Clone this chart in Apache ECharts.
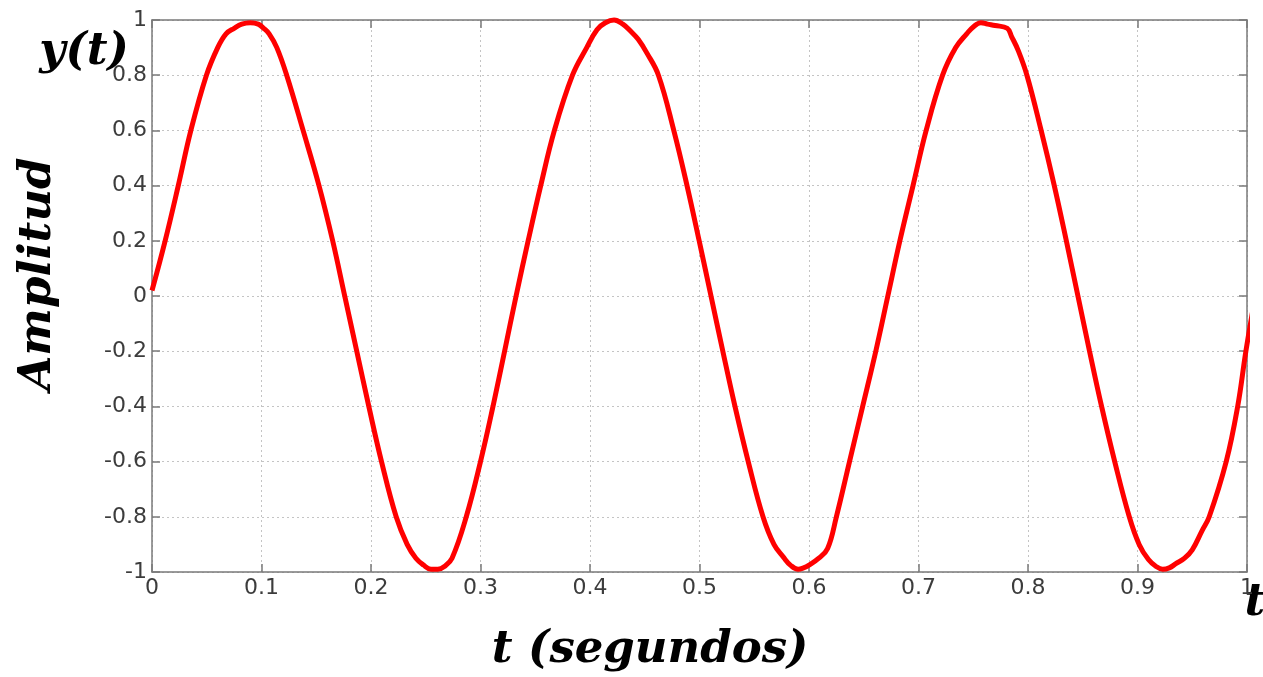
<!DOCTYPE html>
<html>
<head>
<meta charset="utf-8">
<script src="https://cdn.jsdelivr.net/npm/echarts@6/dist/echarts.min.js"></script>
<style>
html,body{margin:0;padding:0;background:#fff;}
#chart{width:1263px;height:677px;}
</style>
</head>
<body>
<div id="chart"></div>
<script>
// time values (s)
var tValues = [0,0.012,0.024,0.0355,0.0497,0.060,0.0676,0.075,0.082,0.0898,0.097,0.102,0.107,0.114,0.123,0.138,0.1525,0.165,0.176,0.187,0.198,0.2096,0.223,0.233,0.241,0.248,0.2548,0.261,0.267,0.274,0.287,0.300,0.3114,0.322,0.3325,0.3435,0.355,0.3675,0.384,0.397,0.4064,0.414,0.422,0.430,0.437,0.444,0.452,0.4625,0.4765,0.4886,0.4997,0.5105,0.5213,0.5324,0.5445,0.558,0.568,0.577,0.583,0.590,0.595,0.600,0.609,0.617,0.625,0.637,0.649,0.661,0.672,0.683,0.695,0.707,0.722,0.734,0.744,0.750,0.757,0.763,0.770,0.781,0.785,0.791,0.799,0.812,0.824,0.835,0.8456,0.8562,0.8672,0.8792,0.8925,0.9015,0.910,0.917,0.923,0.929,0.935,0.943,0.950,0.959,0.9655,0.981,0.9915,0.999,1.0076];
// amplitude values
var ampValues = [0.02,0.2,0.4,0.6,0.8,0.9,0.95,0.97,0.985,0.99,0.985,0.97,0.95,0.9,0.8,0.6,0.4,0.2,0,-0.2,-0.4,-0.6,-0.8,-0.9,-0.95,-0.975,-0.99,-0.99,-0.98,-0.95,-0.8,-0.6,-0.4,-0.2,0,0.2,0.4,0.6,0.8,0.9,0.965,0.99,1.0,0.985,0.96,0.93,0.88,0.8,0.6,0.4,0.2,0,-0.2,-0.4,-0.6,-0.8,-0.9,-0.948,-0.975,-0.99,-0.985,-0.975,-0.95,-0.915,-0.8,-0.6,-0.4,-0.2,0,0.2,0.4,0.6,0.8,0.9,0.95,0.975,0.99,0.985,0.98,0.97,0.94,0.89,0.8,0.6,0.4,0.2,0,-0.2,-0.4,-0.6,-0.8,-0.9,-0.955,-0.98,-0.99,-0.985,-0.97,-0.95,-0.92,-0.85,-0.8,-0.6,-0.4,-0.2,0];
// axis ranges / ticks
var xRange = [0, 1, 0.1];
var yRange = [-1, 1, 0.2];
// titles
var xTitle = 't (segundos)';
var yTitle = 'Amplitud';
var yCorner = 'y(t)';
var xCorner = 't';

var seriesData = tValues.map(function (t, i) { return [t, ampValues[i]]; });

var axisColor = '#7a7a7a';
var gridColor = '#c4c4c4';
var labelStyle = { fontFamily: 'DejaVu Sans', fontSize: 22, color: '#3c3c3c' };
var titleFont = { fontFamily: 'DejaVu Serif', fontWeight: 'bold', fontStyle: 'italic', fontSize: 45, fill: '#000' };

function sideAxis(pos) {
  return {
    type: 'value', position: pos,
    axisLine: { show: true, onZero: false, lineStyle: { color: axisColor, width: 1.5 } },
    axisTick: { show: true, inside: true, length: 8, lineStyle: { color: axisColor, width: 1.5 } },
    axisLabel: { show: false }, splitLine: { show: false }
  };
}

var chart = echarts.init(document.getElementById('chart'), null, { renderer: 'canvas' });
var topX = sideAxis('top'); topX.min = xRange[0]; topX.max = xRange[1]; topX.interval = xRange[2];
var rightY = sideAxis('right'); rightY.min = yRange[0]; rightY.max = yRange[1]; rightY.interval = yRange[2];
chart.setOption({
  animation: false,
  backgroundColor: '#fff',
  grid: { left: 152, right: 16, top: 20, bottom: 105, containLabel: false },
  xAxis: [{
    type: 'value', min: xRange[0], max: xRange[1], interval: xRange[2], position: 'bottom',
    axisLine: { show: true, onZero: false, lineStyle: { color: axisColor, width: 1.5 } },
    axisTick: { show: true, inside: true, length: 8, lineStyle: { color: axisColor, width: 1.5 } },
    axisLabel: Object.assign({ margin: 5 }, labelStyle),
    splitLine: { show: true, lineStyle: { color: gridColor, type: [2, 3], width: 1 } }
  }, topX],
  yAxis: [{
    type: 'value', min: yRange[0], max: yRange[1], interval: yRange[2], position: 'left',
    axisLine: { show: true, onZero: false, lineStyle: { color: axisColor, width: 1.5 } },
    axisTick: { show: true, inside: true, length: 8, lineStyle: { color: axisColor, width: 1.5 } },
    axisLabel: Object.assign({ margin: 5 }, labelStyle),
    splitLine: { show: true, lineStyle: { color: gridColor, type: [2, 3], width: 1 } }
  }, rightY],
  series: [{
    type: 'line',
    xAxisIndex: 0, yAxisIndex: 0,
    data: seriesData,
    smooth: 0.4,
    clip: false,
    showSymbol: false,
    lineStyle: { color: '#ff0000', width: 5 },
    itemStyle: { color: '#ff0000' }
  }],
  graphic: [
    { type: 'text', x: 84, y: 52, style: Object.assign({ text: yCorner, align: 'center', verticalAlign: 'middle' }, titleFont) },
    { type: 'text', x: 38, y: 274, rotation: Math.PI / 2, style: Object.assign({ text: yTitle, align: 'center', verticalAlign: 'middle' }, titleFont) },
    { type: 'text', x: 650, y: 650, style: Object.assign({ text: xTitle, align: 'center', verticalAlign: 'middle' }, titleFont) },
    { type: 'text', x: 1255, y: 603, style: Object.assign({ text: xCorner, align: 'center', verticalAlign: 'middle' }, titleFont) }
  ]
});
</script>
</body>
</html>
